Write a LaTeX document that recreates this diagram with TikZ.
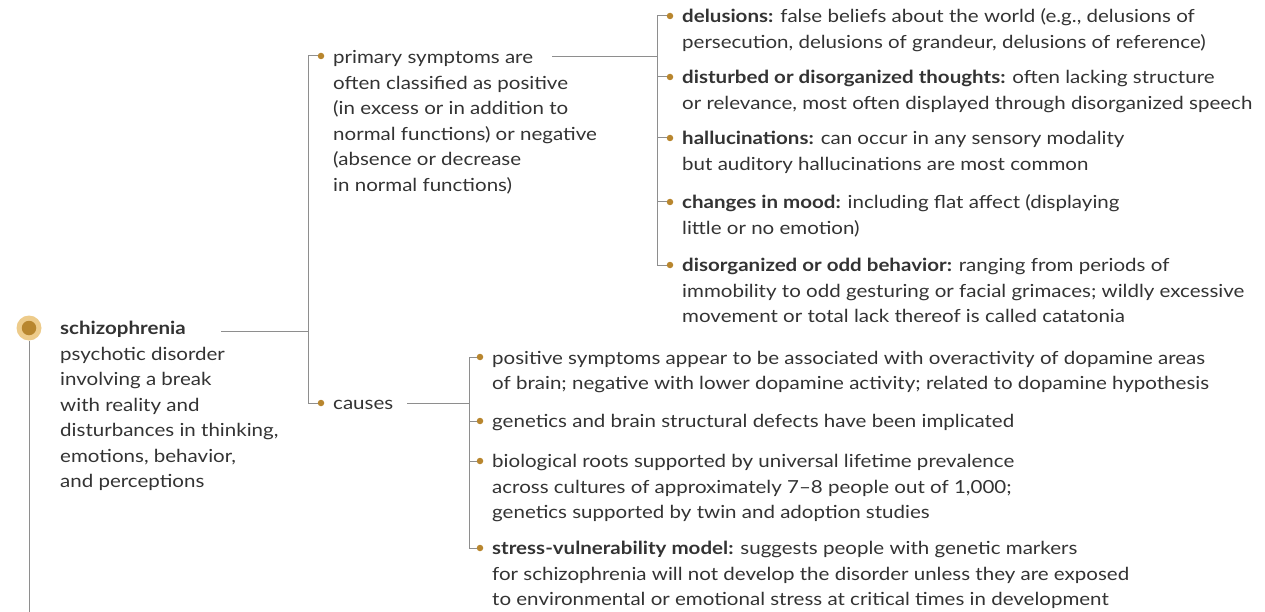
\documentclass[tikz,border=0pt]{standalone}
\usepackage{fontspec}
\setmainfont{Lato}[FakeStretch=1.14]
\definecolor{txt}{HTML}{333333}
\definecolor{ln}{HTML}{8E8E8E}
\definecolor{gold}{HTML}{B8862E}
\definecolor{tan}{HTML}{EDCB8A}
\tikzset{
  lbl/.style={anchor=north west, inner sep=0pt, align=left, text=txt,
    font=\fontsize{18}{25.5}\selectfont, yshift=-2pt},
  dotnode/.style={circle, fill=gold, inner sep=0pt, minimum size=6.5pt},
  conn/.style={draw=ln, line width=1pt},
}
\newcommand{\hd}[1]{\textbf{#1}}
\begin{document}
\begin{tikzpicture}[x=1pt,y=-1pt]
\useasboundingbox (0,0) rectangle (1265,612);

% root
\node[circle, fill=tan, inner sep=0pt, minimum size=25pt] (rootO) at (29,328) {};
\node[circle, fill=gold, inner sep=0pt, minimum size=14.5pt] (rootI) at (29,328) {};
\coordinate (rootEnd) at (29,612);
\draw[conn] (rootO.south) -- (rootEnd);
\node[lbl] (schizo) at (60,314.5) {\strut\hd{schizophrenia}\\psychotic disorder\\involving a break\\with reality and\\disturbances in thinking,\\emotions, behavior,\\and perceptions};

% level 1
\coordinate (s1) at (221,331);
\coordinate (j1) at (308,331);
\coordinate (j1t) at (308,56);
\coordinate (j1b) at (308,403);
\draw[conn] (s1) -- (j1);
\node[dotnode] (dPrim) at (321,56) {};
\node[dotnode] (dCaus) at (321,403) {};
\draw[conn] (dPrim) -- (j1t) -- (j1b) -- (dCaus);

\node[lbl] (prim) at (333,43.5) {\strut primary symptoms are\\often classified as positive\\(in excess or in addition to\\normal functions) or negative\\(absence or decrease\\in normal functions)};
\node[lbl] (caus) at (333,389.5) {\strut causes};

% symptoms
\coordinate (s2) at (552,57);
\coordinate (j2) at (657,57);
\draw[conn] (s2) -- (j2);
\node[dotnode] (dA) at (670,16) {};
\node[dotnode] (dB) at (670,77) {};
\node[dotnode] (dC) at (670,138) {};
\node[dotnode] (dD) at (670,202) {};
\node[dotnode] (dE) at (670,265) {};
\coordinate (j2t) at (657,16);
\coordinate (j2b) at (657,265);
\draw[conn] (dA) -- (j2t) -- (j2b) -- (dE);
\draw[conn] (dB) -- (657,77);
\draw[conn] (dC) -- (657,138);
\draw[conn] (dD) -- (657,202);

\node[lbl] (tA) at (682,2.5) {\strut\hd{delusions:} false beliefs about the world (e.g., delusions of\\persecution, delusions of grandeur, delusions of reference)};
\node[lbl] (tB) at (682,63.5) {\strut\hd{disturbed or disorganized thoughts:} often lacking structure\\or relevance, most often displayed through disorganized speech};
\node[lbl] (tC) at (682,124.5) {\strut\hd{hallucinations:} can occur in any sensory modality\\but auditory hallucinations are most common};
\node[lbl] (tD) at (682,188.5) {\strut\hd{changes in mood:} including flat affect (displaying\\little or no emotion)};
\node[lbl] (tE) at (682,251.5) {\strut\hd{disorganized or odd behavior:} ranging from periods of\\immobility to odd gesturing or facial grimaces; wildly excessive\\movement or total lack thereof is called catatonia};

% causes
\coordinate (s3) at (407,403);
\coordinate (j3) at (469,403);
\draw[conn] (s3) -- (j3);
\node[dotnode] (dF) at (480,357) {};
\node[dotnode] (dG) at (480,421) {};
\node[dotnode] (dH) at (480,461) {};
\node[dotnode] (dI) at (480,548) {};
\coordinate (j3t) at (469,357);
\coordinate (j3b) at (469,548);
\draw[conn] (dF) -- (j3t) -- (j3b) -- (dI);
\draw[conn] (dG) -- (469,421);
\draw[conn] (dH) -- (469,461);

\node[lbl] (tF) at (492,344) {\strut positive symptoms appear to be associated with overactivity of dopamine areas\\of brain; negative with lower dopamine activity; related to dopamine hypothesis};
\node[lbl] (tG) at (492,407.5) {\strut genetics and brain structural defects have been implicated};
\node[lbl] (tH) at (492,447.5) {\strut biological roots supported by universal lifetime prevalence\\across cultures of approximately 7--8 people out of 1,000;\\genetics supported by twin and adoption studies};
\node[lbl] (tI) at (492,534.5) {\strut\hd{stress-vulnerability model:} suggests people with genetic markers\\for schizophrenia will not develop the disorder unless they are exposed\\to environmental or emotional stress at critical times in development};
\end{tikzpicture}
\end{document}
